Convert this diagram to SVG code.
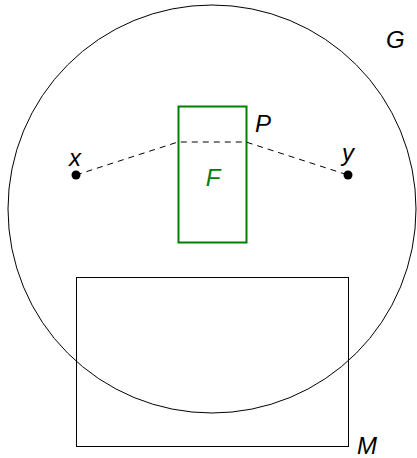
<svg xmlns="http://www.w3.org/2000/svg" width="417" height="458" viewBox="0 0 417 458">
<style>
.lbl{font-family:"Liberation Sans",Arial,sans-serif;font-style:italic;font-size:24px;fill:#000}
.ln{fill:none;stroke:#000;stroke-width:1}
.dash{fill:none;stroke:#000;stroke-width:1;stroke-dasharray:6,5}
</style>
<rect width="417" height="458" fill="#fff"/>
<g id="G"><circle class="ln" cx="212" cy="209" r="204"/><text class="lbl" x="386" y="48">G</text></g>
<g id="M"><rect class="ln" x="76.5" y="277.5" width="272" height="169"/><text class="lbl" x="357" y="454">M</text></g>
<g id="F"><rect x="178.5" y="106.5" width="68" height="136" fill="none" stroke="#008000" stroke-width="2"/><text class="lbl" x="213" y="186" text-anchor="middle" style="fill:#008000">F</text></g>
<g id="P"><text class="lbl" x="255" y="132">P</text></g>
<g id="x"><circle cx="76" cy="175" r="4.5" fill="#000"/><text class="lbl" x="75" y="166" text-anchor="middle">x</text></g>
<g id="y"><circle cx="348" cy="175" r="4.5" fill="#000"/><text class="lbl" x="348" y="161" text-anchor="middle">y</text></g>
<g id="connectors"><path class="dash" d="M76,175 L178,142 L246,142 L348,175"/></g>
</svg>
